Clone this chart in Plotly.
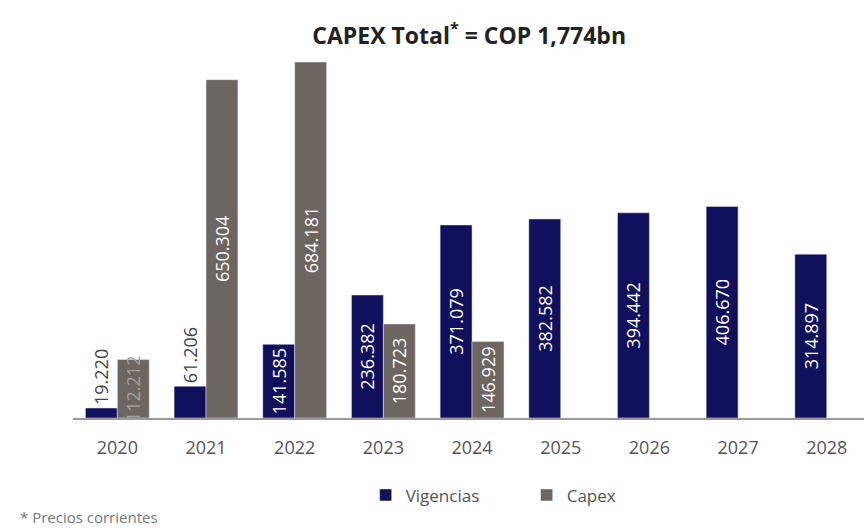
import plotly.graph_objects as go

years = ["2020", "2021", "2022", "2023", "2024", "2025", "2026", "2027", "2028"]
vigencias = [19220, 61206, 141585, 236382, 371079, 382582, 394442, 406670, 314897]
capex = [112212, 650304, 684181, 180723, 146929, None, None, None, None]

vig_pos = ["outside", "outside", "inside", "inside", "inside", "inside", "inside", "inside", "inside"]
cap_pos = ["inside"] * 9
cap_txt_col = ["#a8a29e"] + ["white"] * 8


def fmt(v):
    return "" if v is None else f"{v:,}".replace(",", ".")


NAVY = "#10105c"
GREY = "#6c6560"
FONT = "Open Sans"

fig = go.Figure()
fig.add_trace(go.Bar(
    x=years, y=vigencias, name="Vigencias", marker_color=NAVY,
    text=[fmt(v) for v in vigencias], textposition=vig_pos, textangle=-90,
    insidetextanchor="middle", constraintext="none", cliponaxis=False,
    insidetextfont=dict(color="white", size=18, family=FONT),
    outsidetextfont=dict(color="#444444", size=18, family=FONT),
))
fig.add_trace(go.Bar(
    x=years, y=capex, name="Capex", marker_color=GREY,
    text=[fmt(v) for v in capex], textposition=cap_pos, textangle=-90,
    insidetextanchor="middle", constraintext="none", cliponaxis=False,
    insidetextfont=dict(color=cap_txt_col, size=18, family=FONT),
))

fig.update_layout(
    width=864, height=528,
    margin=dict(l=73, r=0, t=58, b=110),
    paper_bgcolor="white", plot_bgcolor="white",
    barmode="group", bargap=0.28, bargroupgap=0.0,
    font=dict(family=FONT, color="#444444"),
    title=dict(text="CAPEX Total<sup>*</sup> = COP 1,774bn", x=0.543, xanchor="center",
               y=0.932, yanchor="middle",
               font=dict(family=FONT, size=23, color="#222222", weight="bold")),
    xaxis=dict(type="category", range=[-0.5, 8.42], showline=True, linecolor="#999999",
               linewidth=1.5, ticks="", ticklabelstandoff=13,
               tickfont=dict(family=FONT, size=18, color="#555555"), showgrid=False),
    yaxis=dict(range=[0, 692000], visible=False, showgrid=False),
    legend=dict(orientation="h", x=0.37, xanchor="left", y=-0.215, yanchor="middle",
                font=dict(family=FONT, size=17, color="#555555"), itemwidth=30,
                entrywidth=116, entrywidthmode="pixels",
                traceorder="normal"),
    showlegend=True,
)
fig.add_annotation(text="* Precios corrientes", xref="paper", yref="paper",
                   x=-0.07, y=-0.275, xanchor="left", yanchor="middle", showarrow=False,
                   font=dict(family=FONT, size=15, color="#777777"))

fig.write_html("out.html")
